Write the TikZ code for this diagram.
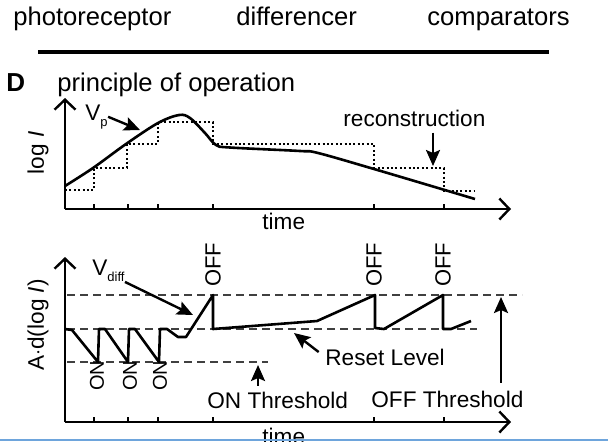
\documentclass[tikz,border=0pt]{standalone}
\usepackage{fontspec}
\setmainfont{Liberation Sans}
\usetikzlibrary{arrows.meta}
\definecolor{edgeblue}{RGB}{110,165,220}
\newcommand{\lowtext}[1]{\raisebox{-3.2pt}{\fontsize{6.5pt}{7pt}\selectfont #1}}
\tikzstyle{bigtext} = [
    inner sep=0pt,
    font=\fontsize{12.8pt}{14pt}\selectfont
]
\tikzstyle{smalltext} = [
    inner sep=0pt,
    font=\fontsize{11.3pt}{13pt}\selectfont
]
\tikzstyle{eventtext} = [
    inner sep=0pt,
    rotate=90,
    anchor=west
]
\tikzstyle{axis} = [line width=1.2pt, -{Straight Barb[length=5pt,width=10.5pt]}]
\tikzstyle{signal} = [line width=1.3pt, line join=round]
\tikzstyle{dotline} = [line width=1pt, dash pattern=on 1pt off 1.2pt]
\tikzstyle{level} = [line width=0.6pt, black!75, dash pattern=on 4pt off 2.5pt]
\tikzstyle{arrow} = [line width=1.2pt, -{Stealth[length=8pt,width=7pt,inset=1.5pt]}]
\begin{document}
\begin{tikzpicture}[x=0.5pt, y=-0.5pt]

\useasboundingbox (0,0) rectangle (608,441);

\node (photo) [bigtext, anchor=base west] at (13,25) {photoreceptor};
\node (differ) [bigtext, anchor=base west] at (236,25) {differencer};
\node (comp) [bigtext, anchor=base west] at (427,25) {comparators};

\draw [line width=2.4pt] (38,52) -- (549,52);

\node (panel) [inner sep=0pt, anchor=base west, font=\fontsize{13pt}{15pt}\selectfont\bfseries] at (6,91) {D};
\node (title) [bigtext, anchor=base west] at (57,91) {principle of operation};

\coordinate (origA) at (65,209);
\coordinate (yendA) at (65,98);
\coordinate (xendA) at (511,209);
\draw [axis] (origA) -- (yendA);
\draw [axis] (origA) -- (xendA);
\foreach \t in {94,128,158,213,374,444}
    \draw [line width=1.2pt] (\t,209) -- (\t,204);

\draw [dotline] (65,190) -- (94,190) -- (94,168) -- (127,168) -- (127,144)
    -- (158,144) -- (158,122) -- (213,122) -- (213,144) -- (374,144)
    -- (374,168) -- (444,168) -- (444,191) -- (475,191);

\draw [signal] plot [smooth, tension=0.55] coordinates {(65,186) (93,168) (126,144)
    (158,123) (179,115) (190,118) (205,133) (216,145) (230,147.5) (300,151)
    (318,153) (374,169) (475,199)};

\node (vp) [smalltext, anchor=base west] at (85,120) {V\lowtext{p}};
\coordinate (vptip) at (140,130);
\draw [arrow] (vp.east) -- (vptip);

\node (recon) [smalltext, anchor=base west] at (343,126) {reconstruction};
\coordinate (recontip) at (433,166);
\draw [arrow, shorten <=3pt] (recon.south -| recontip) -- (recontip);

\node (timeA) [smalltext, anchor=base west] at (262,229) {time};
\node (logI) [smalltext, rotate=90] at (38,153) {log \textit{I}};

\coordinate (origB) at (65,422);
\coordinate (yendB) at (65,257);
\coordinate (xendB) at (511,422);
\draw [axis] (origB) -- (yendB);
\draw [axis] (origB) -- (xendB);
\foreach \t in {94,128,158,213,374,444}
    \draw [line width=1.2pt] (\t,422) -- (\t,417);

\coordinate (offL) at (67,295);
\coordinate (offR) at (522,295);
\coordinate (resL) at (67,329);
\coordinate (resR) at (477,329);
\coordinate (onL) at (67,362);
\coordinate (onR) at (268,362);
\draw [level] (offL) -- (offR);
\draw [level] (resL) -- (resR);
\draw [level] (onL) -- (onR);

\draw [signal] (65,329) -- (72,330) -- (98,362) -- (99,329) -- (105,329)
    -- (128,362) -- (129,329) -- (135,329) -- (159,362) -- (160,329)
    -- (167,329) -- (178,337) -- (186,337) -- (213,295) -- (213,329)
    -- (317,321) -- (375,295) -- (375,328) -- (384,329) -- (443,295)
    -- (443,329) -- (451,329) -- (471,321);

\node (vdiff) [smalltext, anchor=base west] at (92,275) {V\lowtext{diff}};
\coordinate (vdifftip) at (193,315);
\draw [arrow] (vdiff.south east) -- (vdifftip);

\foreach \x/\n in {97/on1,130/on2,160/on3}
    \node (\n) [eventtext, font=\fontsize{10pt}{12pt}\selectfont] at (\x,391) {ON};
\foreach \x/\n in {213/off1,374/off2,443/off3}
    \node (\n) [eventtext, font=\fontsize{11pt}{13pt}\selectfont] at (\x,287) {OFF};

\node (onthr) [smalltext, anchor=base west] at (207,408) {ON Threshold};
\coordinate (ontip) at (258,365);
\draw [arrow, shorten <=2.7pt] (onthr.north -| ontip) -- (ontip);

\node (offthr) [smalltext, anchor=base west] at (371,407) {OFF Threshold};
\coordinate (offtip) at (501,297);
\draw [arrow, shorten <=3.7pt] (offthr.north -| offtip) -- (offtip);

\node (reset) [smalltext, anchor=base west] at (325,365) {Reset Level};
\coordinate (resettip) at (294,333);
\draw [arrow, shorten <=4pt] (reset.west) -- (resettip);

\node (ylabelB) [smalltext, rotate=90] at (38,325) {A$\cdot$d(log \textit{I})};
\node (timeB) [smalltext, anchor=base west] at (262,444) {time};

\draw [line width=1.2pt, edgeblue] (0,440) -- (608,440);

\end{tikzpicture}
\end{document}
